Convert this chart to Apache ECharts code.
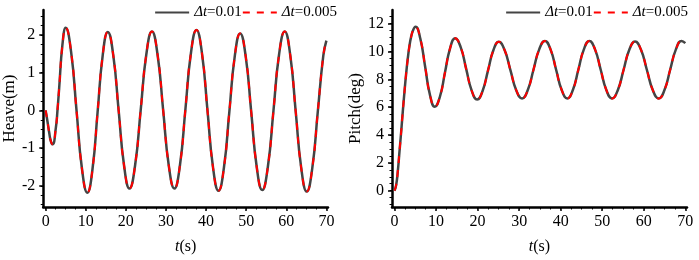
<!DOCTYPE html>
<html>
<head>
<meta charset="utf-8">
<script src="https://cdn.jsdelivr.net/npm/echarts@6/dist/echarts.min.js"></script>
<style>
  html, body { margin: 0; padding: 0; background: #fff; }
  #chart { width: 699px; height: 260px; }
</style>
</head>
<body>
<div id="chart"></div>
<script>
// values
var seriesNames = ["Δt=0.01", "Δt=0.005"];
var xTicks = [0, 10, 20, 30, 40, 50, 60, 70];
var xMinor = [0, 2.5, 5, 7.5, 10, 12.5, 15, 17.5, 20, 22.5, 25, 27.5, 30, 32.5, 35,
  37.5, 40, 42.5, 45, 47.5, 50, 52.5, 55, 57.5, 60, 62.5, 65, 67.5, 70];
var heaveTicks = [-2, -1, 0, 1, 2];
var heaveMinor = [-2.5, -2.25, -2, -1.75, -1.5, -1.25, -1, -0.75, -0.5, -0.25, 0,
  0.25, 0.5, 0.75, 1, 1.25, 1.5, 1.75, 2, 2.25, 2.5];
var pitchTicks = [0, 2, 4, 6, 8, 10, 12];
var pitchMinor = [-1, -0.5, 0, 0.5, 1, 1.5, 2, 2.5, 3, 3.5, 4, 4.5, 5, 5.5, 6, 6.5,
  7, 7.5, 8, 8.5, 9, 9.5, 10, 10.5, 11, 11.5, 12, 12.5];

var heaveT = [0, 0.44, 0.875, 1.31, 1.75, 2.56, 2.95, 3.38, 4.19, 5.0,
  6.35, 7.7, 9.05, 10.4, 11.68, 12.95, 14.23, 15.5, 16.85, 18.2, 19.55, 20.9,
  22.3, 23.7, 25.1, 26.5, 27.9, 29.3, 30.7, 32.1, 33.48, 34.85, 36.23, 37.6,
  38.98, 40.35, 41.73, 43.1, 44.45, 45.8, 47.15, 48.5, 49.88, 51.25, 52.63, 54.0,
  55.4, 56.8, 58.2, 59.6, 60.98, 62.35, 63.73, 65.1, 66.48, 67.85, 69.23, 70];
var heaveV = [0, -0.28, -0.58, -0.82, -0.9, -0.45, 0, 0.6, 1.74, 2.19,
  1.55, 0.0, -1.54, -2.18, -1.56, -0.05, 1.46, 2.08, 1.47, 0.0, -1.46, -2.07,
  -1.46, 0.01, 1.48, 2.09, 1.48, 0.01, -1.46, -2.07, -1.46, 0.03, 1.52, 2.13,
  1.51, 0.0, -1.51, -2.13, -1.52, -0.04, 1.43, 2.04, 1.43, -0.03, -1.5, -2.11,
  -1.5, -0.01, 1.48, 2.09, 1.47, -0.03, -1.53, -2.15, -1.53, -0.04, 1.45, 1.85];

var pitchT = [0, 0.4, 0.8, 1.2, 1.6, 2.0, 2.4, 2.8, 3.2, 3.6, 4.0, 4.5, 5.05,
  6.21, 7.38, 8.54, 9.7, 10.93, 12.15, 13.38, 14.6, 15.93, 17.25, 18.58, 19.9,
  21.2, 22.5, 23.8, 25.1, 26.5, 27.9, 29.3, 30.7, 32.08, 33.45, 34.83, 36.2,
  37.55, 38.9, 40.25, 41.6, 42.93, 44.25, 45.58, 46.9, 48.26, 49.63, 50.99, 52.35,
  53.74, 55.13, 56.51, 57.9, 59.33, 60.75, 62.18, 63.6, 64.98, 66.35, 67.73, 69.1, 70];
var pitchV = [0, 0.4, 1.4, 2.8, 4.2, 5.7, 7.1, 8.4, 9.5, 10.4, 11.05, 11.55, 11.77,
  10.93, 8.9, 6.87, 6.03, 6.75, 8.49, 10.23, 10.95, 10.31, 8.75, 7.19, 6.55,
  7.16, 8.63, 10.09, 10.7, 10.1, 8.66, 7.22, 6.62, 7.23, 8.69, 10.15, 10.76,
  10.15, 8.69, 7.23, 6.62, 7.23, 8.69, 10.15, 10.76, 10.15, 8.69, 7.23, 6.62,
  7.22, 8.67, 10.12, 10.72, 10.12, 8.67, 7.22, 6.62, 7.23, 8.69, 10.15, 10.76, 10.6];

function pairs(t, v) {
  return t.map(function (x, i) { return [x, v[i]]; });
}

var FONT = "'Liberation Serif', 'Times New Roman', Times, serif";
var X_MIN = -0.6, X_MAX = 70.4;

function xAxisFor(idx) {
  return {
    gridIndex: idx,
    type: "value",
    position: "bottom",
    min: X_MIN,
    max: X_MAX,
    name: "{i|t}(s)",
    nameLocation: "middle",
    nameGap: 32,
    nameTextStyle: {
      fontFamily: FONT, fontSize: 16, color: "#000",
      rich: { i: { fontFamily: FONT, fontSize: 16, fontStyle: "italic", color: "#000" } },
    },
    axisLine: { show: true, onZero: false, lineStyle: { color: "#000", width: 2.5 } },
    axisTick: { show: true, length: 4, customValues: xTicks, lineStyle: { color: "#000", width: 1.5 } },
    axisLabel: { customValues: xTicks, margin: 7, fontFamily: FONT, fontSize: 16, color: "#000" },
    splitLine: { show: false },
  };
}

function yAxisFor(idx, min, max, ticks, name, gap) {
  return {
    gridIndex: idx,
    type: "value",
    position: "left",
    min: min,
    max: max,
    name: name,
    nameLocation: "middle",
    nameGap: gap,
    nameTextStyle: { fontFamily: FONT, fontSize: 17, color: "#000" },
    axisLine: { show: true, onZero: false, lineStyle: { color: "#000", width: 2.5 } },
    axisTick: { show: true, length: 4, customValues: ticks, lineStyle: { color: "#000", width: 1.5 } },
    axisLabel: { customValues: ticks, margin: 8, fontFamily: FONT, fontSize: 16, color: "#000" },
    splitLine: { show: false },
  };
}

// extra axes on the same side that only draw the short minor ticks
function minorAxis(idx, pos, min, max, ticks) {
  return {
    gridIndex: idx,
    type: "value",
    position: pos,
    offset: 0,
    min: min,
    max: max,
    axisLine: { show: false, onZero: false },
    axisTick: { show: true, length: 2.5, customValues: ticks, lineStyle: { color: "#000", width: 1 } },
    axisLabel: { show: false },
    splitLine: { show: false },
  };
}

function legendFor(right) {
  return {
    right: right,
    top: 0,
    itemWidth: 34,
    itemHeight: 14,
    itemGap: 0,
    data: seriesNames,
    // hide the circle that line series put on their legend icon
    itemStyle: { color: "transparent", borderWidth: 0, opacity: 0 },
    formatter: function (name) {
      return "{i|Δt}" + name.slice(2);
    },
    textStyle: {
      fontFamily: FONT, fontSize: 15, color: "#000",
      rich: { i: { fontFamily: FONT, fontSize: 15, fontStyle: "italic", color: "#000" } },
    },
  };
}

function lineSeries(name, idx, data, dashed) {
  return {
    name: name,
    type: "line",
    xAxisIndex: idx,
    yAxisIndex: idx,
    data: data,
    smooth: 0.5,
    symbol: "none",
    lineStyle: dashed
      ? { color: "#ff0000", width: 2, type: [7, 7] }
      : { color: "#444444", width: 2.5 },
    itemStyle: { color: dashed ? "#ff0000" : "#444444" },
    z: dashed ? 3 : 2,
  };
}

var chart = echarts.init(document.getElementById("chart"));
chart.setOption({
  animation: false,
  legend: [legendFor(357), legendFor(6)],
  grid: [
    { left: 36, top: 10, width: 292, height: 202 },
    { left: 392, top: 10, width: 295, height: 202 },
  ],
  xAxis: [
    xAxisFor(0),
    xAxisFor(1),
    minorAxis(0, "bottom", X_MIN, X_MAX, xMinor),
    minorAxis(1, "bottom", X_MIN, X_MAX, xMinor),
  ],
  yAxis: [
    yAxisFor(0, -2.56, 2.66, heaveTicks, "Heave(m)", 17),
    yAxisFor(1, -1.17, 12.98, pitchTicks, "Pitch(deg)", 21),
    minorAxis(0, "left", -2.56, 2.66, heaveMinor),
    minorAxis(1, "left", -1.17, 12.98, pitchMinor),
  ],
  series: [
    lineSeries(seriesNames[0], 0, pairs(heaveT, heaveV), false),
    lineSeries(seriesNames[1], 0, pairs(heaveT, heaveV), true),
    lineSeries(seriesNames[0], 1, pairs(pitchT, pitchV), false),
    lineSeries(seriesNames[1], 1, pairs(pitchT, pitchV), true),
  ],
});
</script>
</body>
</html>
